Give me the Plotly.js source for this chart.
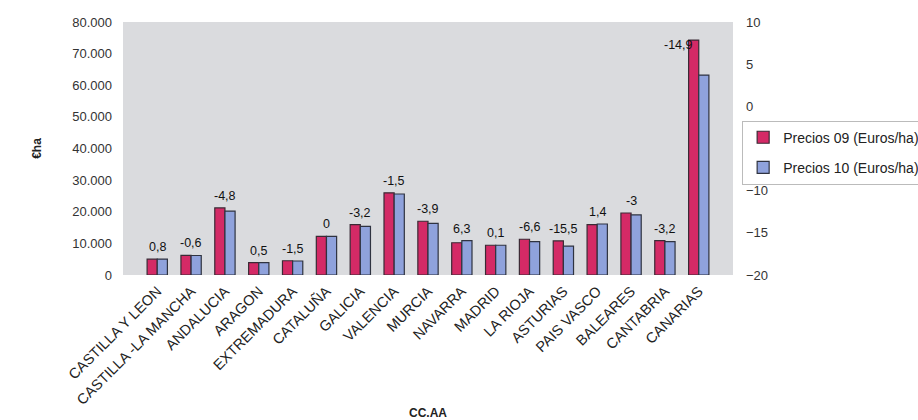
<!DOCTYPE html>
<html>
<head>
<meta charset="utf-8">
<script src="https://cdn.plot.ly/plotly-3.0.1.min.js"></script>
<style>html,body{margin:0;padding:0;background:#fff}#chart{width:918px;height:420px}</style>
</head>
<body>
<div id="chart"></div>
<script>
const regions = ["CASTILLA Y LEON","CASTILLA -LA MANCHA","ANDALUCIA","ARAGON","EXTREMADURA","CATALUÑA","GALICIA","VALENCIA","MURCIA","NAVARRA","MADRID","LA RIOJA","ASTURIAS","PAIS VASCO","BALEARES","CANTABRIA","CANARIAS"];
const precios09 = [5000, 6200, 21200, 3900, 4500, 12200, 15900, 26000, 17000, 10200, 9400, 11300, 10800, 15900, 19600, 10900, 74300];
const precios10 = [5040, 6160, 20180, 3920, 4430, 12200, 15390, 25610, 16340, 10840, 9410, 10550, 9130, 16120, 19010, 10550, 63230];
const variacion = [0.8, -0.6, -4.8, 0.5, -1.5, 0, -3.2, -1.5, -3.9, 6.3, 0.1, -6.6, -15.5, 1.4, -3, -3.2, -14.9];
const leftTicks = [0, 10000, 20000, 30000, 40000, 50000, 60000, 70000, 80000];
const rightTicks = [-20, -15, -10, -5, 0, 5, 10];

const fontFam = "Liberation Sans, Arial, sans-serif";

const traces = [
  {type:'bar', name:'Precios 09 (Euros/ha)', x: regions, y: precios09,
   marker:{color:'#D42A66', line:{color:'#3a2a35', width:1.2}}, legendgroup:'a'},
  {type:'bar', name:'Precios 10 (Euros/ha)', x: regions, y: precios10,
   marker:{color:'#8FA2DC', line:{color:'#2f3340', width:1.2}}, legendgroup:'b'},
  {type:'scatter', x: regions, y: regions.map(()=>null), yaxis:'y2', showlegend:false, hoverinfo:'skip', mode:'markers'}
];

const annotations = regions.map((r, i) => {
  const last = i === regions.length - 1;
  return {
    x: r, y: Math.max(precios09[i], precios10[i]), xref:'x', yref:'y',
    text: String(variacion[i]).replace('.', ','),
    showarrow:false, yanchor: last ? 'middle' : 'bottom',
    xshift: last ? -20 : 0, yshift: last ? -5 : 3,
    font:{family:fontFam, size:12.5, color:'#111'}
  };
});

const layout = {
  width:918, height:420,
  margin:{l:123, r:185, t:22, b:145, autoexpand:false},
  paper_bgcolor:'#ffffff', plot_bgcolor:'#dadbde',
  separators:',.',
  font:{family:fontFam, size:12, color:'#222'},
  barmode:'group', bargap:0.4, bargroupgap:0,
  showlegend:true,
  legend:{x:1.015, xanchor:'left', y:0.61, yanchor:'top', bgcolor:'#ffffff',
          bordercolor:'#bbbbbb', borderwidth:1, tracegroupgap:9,
          font:{family:fontFam, size:14, color:'#222'}},
  xaxis:{tickangle:-45, tickfont:{family:fontFam, size:14.5, color:'#222'},
         showgrid:false, zeroline:false, showline:false, ticks:'', ticklabelstandoff:4,
         title:{text:'<b>CC.AA</b>', font:{family:fontFam, size:12, color:'#222'}, standoff:2}},
  yaxis:{range:[0,80000], tickvals:leftTicks, tickformat:',d', showgrid:false, zeroline:false,
         showline:false, ticks:'', ticklabelstandoff:10,
         tickfont:{family:fontFam, size:13, color:'#333'},
         title:{text:'<b>€ha</b>', font:{family:fontFam, size:12, color:'#222'}, standoff:28}},
  yaxis2:{overlaying:'y', side:'right', range:[-20,10], tickvals:rightTicks,
          showgrid:false, zeroline:false, showline:false, ticks:'', ticklabelstandoff:12,
          tickfont:{family:fontFam, size:13, color:'#333'}},
  annotations: annotations
};

Plotly.newPlot('chart', traces, layout, {displayModeBar:false, staticPlot:true});
</script>
</body>
</html>
